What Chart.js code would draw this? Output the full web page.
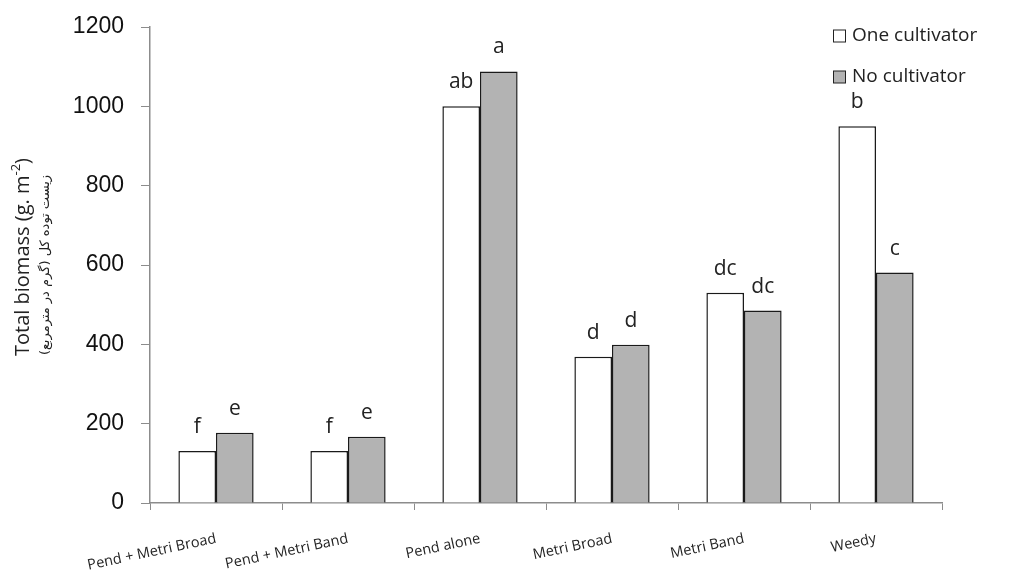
<!DOCTYPE html>
<html>
<head>
<meta charset="utf-8">
<script src="https://cdn.jsdelivr.net/npm/chart.js@4.4.1/dist/chart.umd.min.js"></script>
<style>
  html, body { margin: 0; padding: 0; background: #fff; }
  #wrap { width: 1012px; height: 581px; }
</style>
</head>
<body>
<div id="wrap"><canvas id="c" width="1012" height="581"></canvas></div>
<script>
// Treatments on the x axis
const categories = ['Pend + Metri Broad', 'Pend + Metri Band', 'Pend alone', 'Metri Broad', 'Metri Band', 'Weedy'];
// Total biomass (g m-2)
const oneCultivator = [131, 131, 1000, 369, 530, 950];
const noCultivator  = [177, 167, 1088, 399, 485, 581];
// Mean-separation letters shown above bars
const oneLetters = ['f', 'f', 'ab', 'd', 'dc', 'b'];
const noLetters  = ['e', 'e', 'a', 'd', 'dc', 'c'];
const yTicks = [0, 200, 400, 600, 800, 1000, 1200];

const FONT = '"Open Sans", "DejaVu Sans", sans-serif';
const NUM_FONT = '"Liberation Sans", Arial, sans-serif';

// Letters above each bar
const letterPlugin = {
  id: 'letters',
  afterDatasetsDraw(chart) {
    const ctx = chart.ctx;
    ctx.save();
    ctx.font = '21px ' + FONT;
    ctx.fillStyle = '#222';
    ctx.textAlign = 'center';
    ctx.textBaseline = 'alphabetic';
    chart.data.datasets.forEach((ds, di) => {
      const meta = chart.getDatasetMeta(di);
      meta.data.forEach((bar, i) => {
        ctx.fillText(ds.letters[i], bar.x, bar.y - 18);
      });
    });
    ctx.restore();
  }
};

// Legend boxes at the top right
const legendPlugin = {
  id: 'boxLegend',
  afterDraw(chart) {
    const ctx = chart.ctx;
    ctx.save();
    ctx.font = '19px ' + FONT;
    ctx.textBaseline = 'middle';
    ctx.textAlign = 'left';
    chart.data.datasets.forEach((ds, di) => {
      const cy = 36 + di * 41;
      ctx.fillStyle = ds.backgroundColor;
      ctx.fillRect(833.5, cy - 6, 12, 12);
      ctx.strokeStyle = '#222';
      ctx.lineWidth = 1;
      ctx.strokeRect(833.5, cy - 6, 12, 12);
      ctx.fillStyle = '#222';
      ctx.fillText(ds.label, 852, cy);
    });
    ctx.restore();
  }
};

// Two-line y axis title with superscript
const yTitlePlugin = {
  id: 'yTitle',
  afterDraw(chart) {
    const ctx = chart.ctx;
    ctx.save();
    ctx.translate(23, 257);
    ctx.rotate(-Math.PI / 2);
    ctx.fillStyle = '#222';
    ctx.textBaseline = 'middle';
    const main = 'Total biomass (g. m';
    const sup = '-2';
    const tail = ')';
    ctx.font = '20px ' + FONT;
    const w1 = ctx.measureText(main).width;
    const w3 = ctx.measureText(tail).width;
    ctx.font = '13px ' + FONT;
    const w2 = ctx.measureText(sup).width;
    let x = -(w1 + w2 + w3) / 2;
    ctx.textAlign = 'left';
    ctx.font = '20px ' + FONT;
    ctx.fillText(main, x, 0);
    x += w1;
    ctx.font = '13px ' + FONT;
    ctx.fillText(sup, x, -7);
    x += w2;
    ctx.font = '20px ' + FONT;
    ctx.fillText(tail, x, 0);
    ctx.restore();

    ctx.save();
    ctx.translate(46, 265);
    ctx.rotate(-Math.PI / 2);
    ctx.fillStyle = '#222';
    ctx.textAlign = 'center';
    ctx.textBaseline = 'middle';
    ctx.font = '13px "DejaVu Sans", "Noto Sans", sans-serif';
    ctx.direction = 'rtl';
    ctx.fillText('زیست توده کل (گرم در مترمربع)', 0, 0);
    ctx.restore();
  }
};

new Chart(document.getElementById('c'), {
  type: 'bar',
  data: {
    labels: categories,
    datasets: [
      {
        label: 'One cultivator',
        data: oneCultivator,
        letters: oneLetters,
        backgroundColor: '#ffffff',
        borderColor: '#1a1a1a',
        borderWidth: 1.5,
        borderSkipped: 'bottom'
      },
      {
        label: 'No cultivator',
        data: noCultivator,
        letters: noLetters,
        backgroundColor: '#b3b3b3',
        borderColor: '#1a1a1a',
        borderWidth: 1.5,
        borderSkipped: 'bottom'
      }
    ]
  },
  options: {
    responsive: false,
    animation: false,
    devicePixelRatio: 1,
    layout: { padding: { top: 27, right: 70, bottom: 0, left: 0 } },
    categoryPercentage: 0.57,
    barPercentage: 1.0,
    plugins: {
      legend: { display: false },
      tooltip: { enabled: false }
    },
    scales: {
      x: {
        grid: {
          offset: true,
          drawOnChartArea: false,
          drawTicks: true,
          tickLength: 7,
          color: '#8c8c8c'
        },
        border: { display: true, color: '#8c8c8c', width: 1.5 },
        ticks: {
          minRotation: 12,
          maxRotation: 12,
          padding: 20,
          color: '#222',
          font: { family: FONT, size: 14.5 }
        },
        afterFit(scale) {
          scale.height = 78;
          scale.paddingLeft = 0;
          scale.paddingRight = 0;
        }
      },
      y: {
        min: 0,
        max: 1200,
        afterBuildTicks(scale) { scale.ticks = yTicks.map(v => ({ value: v })); },
        grid: {
          drawOnChartArea: false,
          drawTicks: true,
          tickLength: 9,
          color: '#8c8c8c'
        },
        border: { display: true, color: '#8c8c8c', width: 1.5 },
        ticks: {
          padding: 17,
          color: '#111',
          font: { family: NUM_FONT, size: 23 },
          callback: (v) => String(v)
        },
        afterFit(scale) {
          scale.width = 150;
          scale.paddingTop = 0;
          scale.paddingBottom = 0;
        }
      }
    }
  },
  plugins: [letterPlugin, legendPlugin, yTitlePlugin]
});
</script>
</body>
</html>
